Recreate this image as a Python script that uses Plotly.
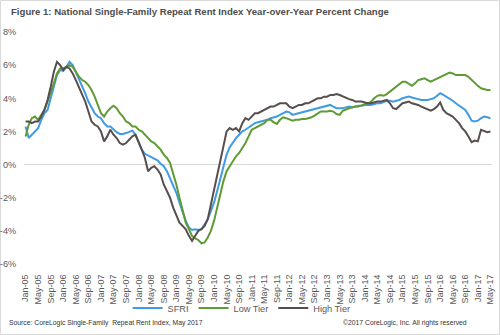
import plotly.graph_objects as go

months = ["Jan", "Feb", "Mar", "Apr", "May", "Jun", "Jul", "Aug", "Sep", "Oct", "Nov", "Dec"]
categories = [f"{months[i % 12]}-{5 + i // 12:02d}" for i in range(149)]
tick_labels = categories[::4]
y_ticks = [-6, -4, -2, 0, 2, 4, 6, 8]
y_tick_text = ["-6%", "-4%", "-2%", "0%", "2%", "4%", "6%", "8%"]

sfri = [2.3, 1.6, 1.8, 2.0, 2.2, 2.7, 3.1, 3.3, 4.0, 4.8, 5.4, 5.7, 5.65, 5.9, 6.2, 6.0, 5.6, 5.1, 4.7, 4.3,
        3.8, 3.4, 3.1, 2.9, 2.8, 2.5, 2.3, 2.3, 2.1, 1.95, 1.85, 1.85, 1.9, 2.0, 2.05, 1.8, 1.3, 0.9, 0.65, 0.55,
        0.5, 0.4, 0.25, 0.05, -0.1, -0.4, -0.8, -1.3, -1.7, -2.3, -2.9, -3.4, -3.8, -3.95, -3.9, -3.95, -3.9, -3.6, -3.3, -2.8,
        -2.3, -1.6, -0.9, -0.1, 0.6, 1.05, 1.35, 1.6, 1.8, 2.0, 2.1, 2.25, 2.4, 2.5, 2.55, 2.6, 2.65, 2.7, 2.8, 2.85,
        2.9, 3.0, 3.1, 3.2, 3.15, 3.0, 3.05, 3.1, 3.15, 3.2, 3.25, 3.3, 3.35, 3.4, 3.45, 3.5, 3.55, 3.6, 3.5, 3.4,
        3.4, 3.4, 3.45, 3.5, 3.45, 3.5, 3.55, 3.55, 3.6, 3.6, 3.6, 3.65, 3.7, 3.7, 3.8, 3.85, 3.85, 3.8, 3.85, 3.9,
        4.0, 4.05, 4.1, 4.05, 4.0, 3.95, 3.9, 3.9, 3.9, 3.95, 4.0, 4.15, 4.3, 4.2, 4.1, 3.95, 3.85, 3.7, 3.55, 3.4,
        3.3, 3.0, 2.65, 2.6, 2.65, 2.8, 2.9, 2.85, 2.8]

low_tier = [1.7, 2.4, 2.8, 2.9, 2.7, 3.0, 3.3, 3.8, 4.3, 4.9, 5.5, 5.8, 5.8, 5.9, 6.0, 5.9, 5.6, 5.3, 5.1, 5.0,
            4.8, 4.5, 4.1, 3.6, 3.1, 2.9, 3.2, 3.4, 3.55, 3.4, 3.1, 2.9, 2.6, 2.5, 2.3, 2.3, 2.1, 2.0, 1.8, 1.6,
            1.4, 1.3, 1.1, 0.9, 0.6, 0.4, 0.1, -0.5, -1.2, -2.0, -2.8, -3.5, -3.9, -4.3, -4.45, -4.55, -4.75, -4.7, -4.4, -4.0,
            -3.4, -2.6, -1.7, -1.0, -0.4, -0.1, 0.2, 0.5, 0.7, 1.0, 1.3, 1.7, 2.1, 2.2, 2.3, 2.4, 2.5, 2.7, 2.7, 2.55,
            2.45, 2.7, 2.85, 2.8, 2.7, 2.65, 2.7, 2.7, 2.75, 2.75, 2.8, 2.85, 2.95, 3.05, 3.2, 3.2, 3.2, 3.25, 3.2, 3.05,
            3.0, 3.25, 3.35, 3.4, 3.45, 3.5, 3.5, 3.6, 3.65, 3.7, 3.8, 4.0, 4.15, 4.2, 4.15, 4.25, 4.4, 4.55, 4.7, 4.85,
            5.0, 5.0, 4.9, 4.75, 4.9, 5.1, 5.15, 5.2, 5.1, 5.0, 5.1, 5.2, 5.3, 5.4, 5.45, 5.55, 5.5, 5.4, 5.4, 5.4,
            5.4, 5.3, 5.1, 4.95, 4.75, 4.6, 4.55, 4.5, 4.5]

high_tier = [2.6, 2.6, 2.5, 2.6, 2.6, 2.9, 3.3, 3.9, 4.7, 5.6, 6.2, 6.0, 5.7, 5.9, 5.8, 5.5, 5.1, 4.7, 4.2, 3.8,
             3.2, 2.6, 2.4, 2.3, 2.0, 1.4, 1.7, 2.1, 1.8, 1.6, 1.3, 1.2, 1.3, 1.5, 1.7, 1.8, 1.4, 0.9, 0.4, -0.4,
             -0.2, -0.1, -0.3, -0.6, -1.2, -1.6, -2.0, -2.6, -3.0, -3.5, -3.7, -3.9, -4.3, -4.6, -4.3, -4.0, -3.9, -3.7, -3.3, -2.4,
             -1.4, -0.5, 0.4, 1.2, 2.0, 2.2, 2.1, 2.2, 2.0, 2.5, 2.8, 2.7, 2.9, 3.1, 3.1, 3.2, 3.3, 3.4, 3.5, 3.5,
             3.6, 3.7, 3.7, 3.7, 3.5, 3.4, 3.5, 3.6, 3.6, 3.7, 3.7, 3.8, 3.9, 4.0, 4.0, 4.1, 4.1, 4.2, 4.2, 4.25,
             4.2, 4.1, 4.0, 3.95, 3.9, 3.8, 3.8, 3.8, 3.75, 3.7, 3.7, 3.75, 3.8, 3.8, 3.85, 3.9, 3.7, 3.4, 3.35, 3.5,
             3.7, 3.75, 3.8, 3.7, 3.65, 3.6, 3.5, 3.4, 3.3, 3.25, 3.35, 3.5, 3.75, 3.3, 3.1, 3.0, 2.9, 2.7, 2.5, 2.2,
             2.0, 1.7, 1.35, 1.45, 1.4, 2.1, 2.0, 1.95, 2.0]

series = [
    ("SFRI", sfri, "#419BE3"),
    ("Low Tier", low_tier, "#5E9B32"),
    ("High Tier", high_tier, "#584E4E"),
]

FONT = "Liberation Sans, Arial, sans-serif"
GRAY = "#595959"
L, T, PW, PH = 24, 32, 468, 232


def px(xp):
    return (xp - L) / PW


def py(yp):
    return (T + PH - yp) / PH


fig = go.Figure()
for name, vals, color in series:
    fig.add_trace(go.Scatter(x=categories, y=vals, name=name, mode="lines",
                             line=dict(color=color, width=2)))

fig.update_layout(
    width=500, height=335,
    margin=dict(l=L, r=500 - L - PW, t=T, b=335 - T - PH),
    paper_bgcolor="white", plot_bgcolor="white",
    font=dict(family=FONT, color=GRAY, size=9),
    showlegend=True,
    legend=dict(orientation="h", x=0.465, xanchor="center", y=py(308), yanchor="middle",
                font=dict(family=FONT, size=9.2, color=GRAY), bgcolor="rgba(0,0,0,0)",
                itemwidth=30, tracegroupgap=0),
)

fig.add_annotation(text="<b>Figure 1: National Single-Family Repeat Rent Index Year-over-Year Percent Change</b>",
                   xref="paper", yref="paper", x=px(10), y=py(11), xanchor="left", yanchor="middle",
                   showarrow=False, borderpad=0, font=dict(family=FONT, size=9.6, color="#4D4D4D"))

fig.update_xaxes(type="category", range=[-0.5, 148.5], tickmode="array",
                 tickvals=tick_labels, ticktext=tick_labels, tickangle=-90,
                 tickfont=dict(family=FONT, size=9, color=GRAY),
                 showgrid=False, showline=False, zeroline=False,
                 ticks="outside", ticklen=6, tickcolor="rgba(0,0,0,0)", automargin=False)
fig.update_yaxes(range=[-6, 8], tickmode="array", tickvals=y_ticks, ticktext=y_tick_text,
                 tickfont=dict(family=FONT, size=9.2, color=GRAY),
                 showgrid=False, showline=False, zeroline=True, zerolinecolor="#D9D9D9", zerolinewidth=1,
                 ticks="outside", ticklen=5, tickcolor="rgba(0,0,0,0)", automargin=False)

fig.add_annotation(text="Source: CoreLogic Single-Family  Repeat Rent Index, May 2017",
                   xref="paper", yref="paper", x=px(8), y=py(323),
                   xanchor="left", yanchor="middle", showarrow=False, borderpad=0,
                   font=dict(family=FONT, size=6.8, color="#333333"))
fig.add_annotation(text="©2017 CoreLogic, Inc. All rights reserved",
                   xref="paper", yref="paper", x=px(468), y=py(323),
                   xanchor="right", yanchor="middle", showarrow=False, borderpad=0,
                   font=dict(family=FONT, size=6.8, color="#333333"))
fig.add_shape(type="rect", xref="paper", yref="paper",
              x0=px(0.5), x1=px(499.5), y0=py(334.5), y1=py(0.5),
              line=dict(color="#D9D9D9", width=1), fillcolor="rgba(0,0,0,0)", layer="below")

fig.write_html("out.html")
